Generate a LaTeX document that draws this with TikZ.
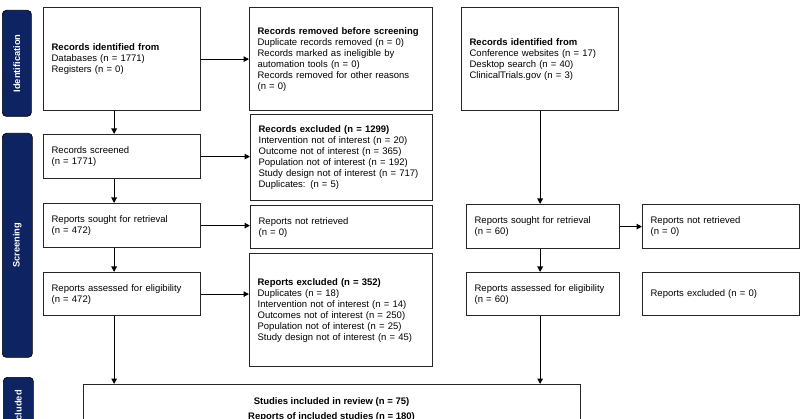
\documentclass[tikz,border=0pt]{standalone}
\usepackage{fontspec}
\setmainfont{Liberation Sans}
\usetikzlibrary{arrows.meta,calc}
\definecolor{navy}{RGB}{14,36,98}
\begin{document}
\begin{tikzpicture}[x=1pt,y=-1pt,
  box/.style={draw=black!85, line width=1.25pt, anchor=north west, inner xsep=8pt, inner ysep=0pt, align=left, font=\fontsize{9.5}{11}\selectfont},
  side/.style={fill=navy, draw=black, line width=0.7pt, rounded corners=4pt, anchor=north west, inner sep=0pt},
  sidetext/.style={text=white, font=\bfseries\fontsize{9.3}{11}\selectfont, rotate=90},
  incltext/.style={font=\bfseries\fontsize{9.5}{11}\selectfont},
  arr/.style={line width=1.1pt, -{Triangle[length=5.5pt,width=5.5pt]}}]
\useasboundingbox (0,0) rectangle (800,419);
\clip (0,0) rectangle (800,419);

% side bars
\node[side, minimum width=29pt, minimum height=106pt] (sId) at (2,10) {};
\node[sidetext] (sIdT) at (sId.center) {Identification};
\node[side, minimum width=30pt, minimum height=224pt] (sSc) at (2,133) {};
\node[sidetext] (sScT) at (sSc.center) {Screening};
\node[side, minimum width=30pt, minimum height=64pt] (sIn) at (3,377) {};
\node[sidetext] (sInT) at (sIn.center) {Included};

% identification row
\node[box, text width=141pt, minimum height=103pt] (id1) at (43,7)
  {\textbf{Records identified from}\\Databases (n = 1771)\\Registers (n = 0)};
\node[box, text width=167pt, minimum height=103pt] (removed) at (249,7)
  {\textbf{Records removed before screening}\\Duplicate records removed (n = 0)\\Records marked as ineligible by\\automation tools (n = 0)\\Records removed for other reasons\\(n = 0)};
\node[box, text width=141pt, minimum height=103pt] (id2) at (461,7)
  {\textbf{Records identified from}\\Conference websites (n = 17)\\Desktop search (n = 40)\\ClinicalTrials.gov (n = 3)};

% screening, left
\node[box, text width=141pt, minimum height=44pt] (screened) at (43,134)
  {Records screened\\(n = 1771)};
\node[box, text width=166pt, minimum height=86pt] (excl) at (250,114)
  {\textbf{Records excluded (n = 1299)}\\Intervention not of interest (n = 20)\\Outcome not of interest (n = 365)\\Population not of interest (n = 192)\\Study design not of interest (n = 717)\\Duplicates: (n = 5)};
\node[box, text width=141pt, minimum height=44pt] (sought) at (43,203)
  {Reports sought for retrieval\\(n = 472)};
\node[box, text width=166pt, minimum height=43pt] (notret) at (250,205)
  {Reports not retrieved\\(n = 0)};
\node[box, text width=141pt, minimum height=43pt] (assessed) at (43,272)
  {Reports assessed for eligibility\\(n = 472)};
\node[box, text width=167pt, minimum height=113pt] (rexcl) at (249,253)
  {\textbf{Reports excluded (n = 352)}\\Duplicates (n = 18)\\Intervention not of interest (n = 14)\\Outcomes not of interest (n = 250)\\Population not of interest (n = 25)\\Study design not of interest (n = 45)};

% screening, right
\node[box, text width=137pt, minimum height=44pt] (sought2) at (466,204)
  {Reports sought for retrieval\\(n = 60)};
\node[box, text width=141pt, minimum height=44pt] (notret2) at (642,204)
  {Reports not retrieved\\(n = 0)};
\node[box, text width=137pt, minimum height=43pt] (assessed2) at (466,272)
  {Reports assessed for eligibility\\(n = 60)};
\node[box, text width=141pt, minimum height=43pt] (rexcl2) at (642,272)
  {Reports excluded (n = 0)};

% included
\node[box, minimum width=497pt, minimum height=70pt] (incl) at (83,384) {};
\node[incltext] (inclA) at (331.5,402) {Studies included in review (n = 75)};
\node[incltext] (inclB) at (331.5,417) {Reports of included studies (n = 180)};

% connectors
\draw[arr] (id1.east) -- (removed.west);
\draw[arr] ([xshift=-8pt]id1.south) -- ([xshift=-8pt]screened.north);
\draw[arr] (screened.east) -- (screened.east -| excl.west);
\draw[arr] ([xshift=-8pt]screened.south) -- ([xshift=-8pt]sought.north);
\draw[arr] (sought.east) -- (sought.east -| notret.west);
\draw[arr] ([xshift=-8pt]sought.south) -- ([xshift=-8pt]assessed.north);
\draw[arr] (assessed.east) -- (assessed.east -| rexcl.west);
\draw[arr] ([xshift=-8pt]assessed.south) -- ([xshift=-8pt]assessed.south |- incl.north);
\draw[arr] (id2.south) -- (id2.south |- sought2.north);
\draw[arr] (sought2.east) -- (sought2.east -| notret2.west);
\draw[arr] (sought2.south -| id2.south) -- (id2.south |- assessed2.north);
\draw[arr] (assessed2.south -| id2.south) -- (id2.south |- incl.north);
\end{tikzpicture}
\end{document}
